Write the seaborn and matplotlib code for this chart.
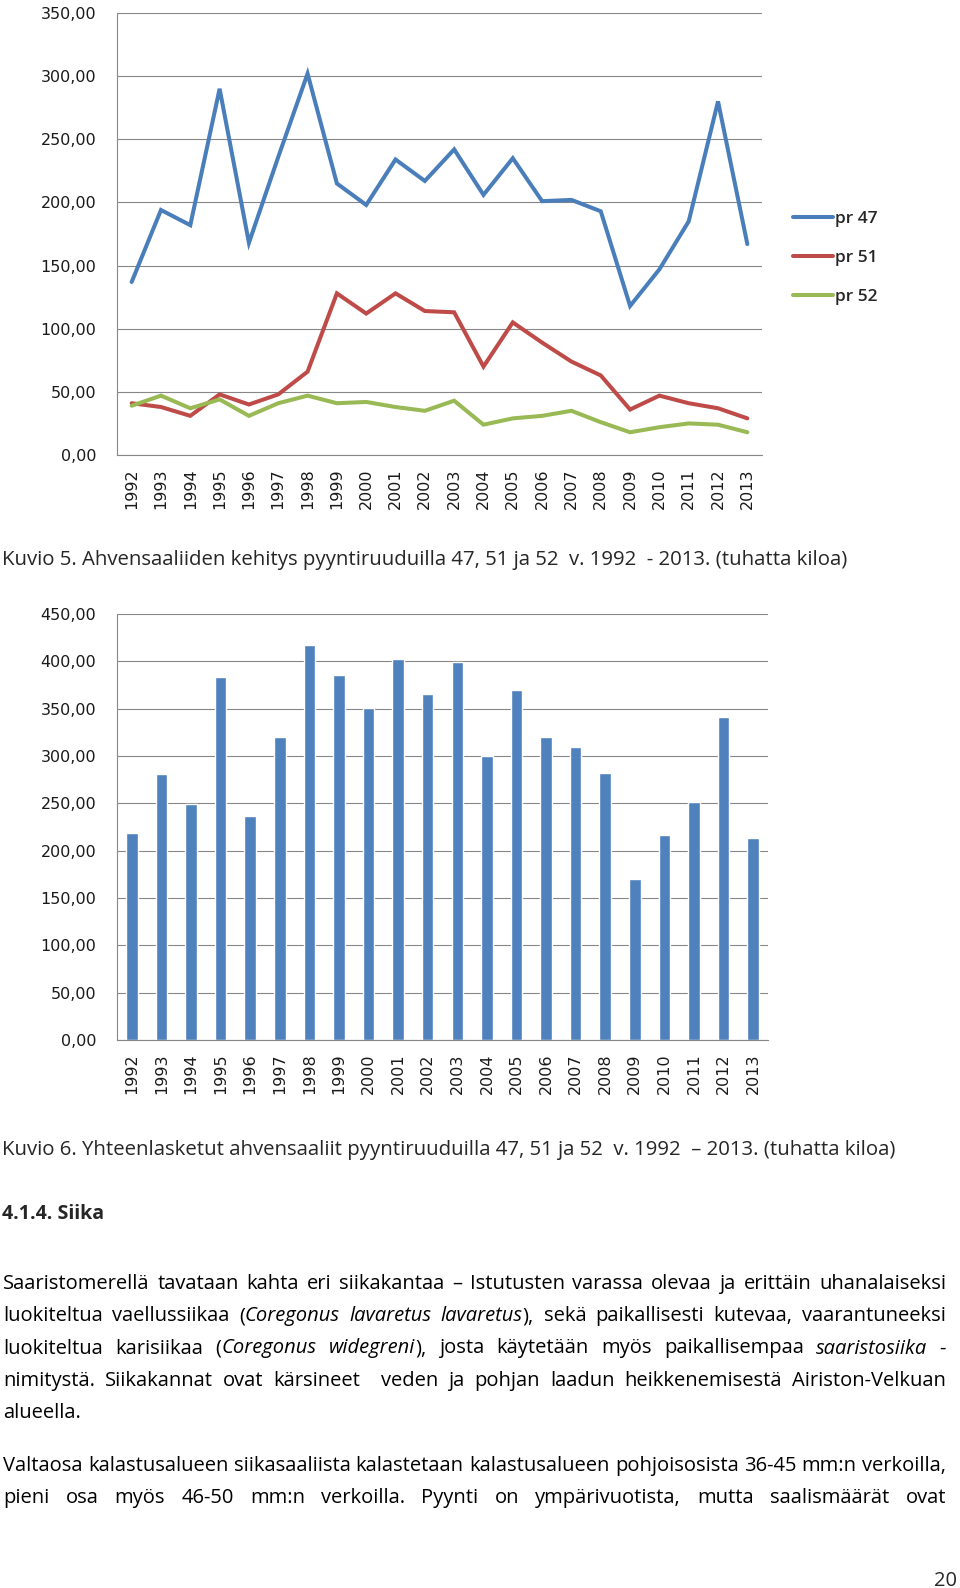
import matplotlib

matplotlib.use("Agg")
import matplotlib.pyplot as plt
import numpy as np
import pandas as pd
import seaborn as sns
from matplotlib.ticker import FuncFormatter

years = ["1992", "1993", "1994", "1995", "1996", "1997", "1998", "1999", "2000", "2001", "2002",
         "2003", "2004", "2005", "2006", "2007", "2008", "2009", "2010", "2011", "2012", "2013"]
pr47 = [137, 194, 182, 290, 168, 236, 302, 215, 198, 234, 217, 242, 206, 235, 201, 202, 193, 118, 147, 185, 280, 167]
pr51 = [41, 38, 31, 48, 40, 48, 66, 128, 112, 128, 114, 113, 70, 105, 89, 74, 63, 36, 47, 41, 37, 29]
pr52 = [39, 47, 37, 44, 31, 41, 47, 41, 42, 38, 35, 43, 24, 29, 31, 35, 26, 18, 22, 25, 24, 18]
totals = [219, 281, 249, 383, 237, 320, 417, 386, 351, 402, 366, 399,
          300, 370, 320, 309, 282, 170, 217, 251, 341, 213]
series_names = ["pr 47", "pr 51", "pr 52"]
line_colors = ["#4A7EBB", "#BE4B48", "#98B954"]
bar_color = "#4F81BD"

caption5 = "Kuvio 5. Ahvensaaliiden kehitys pyyntiruuduilla 47, 51 ja 52  v. 1992  - 2013. (tuhatta kiloa)"
caption6 = "Kuvio 6. Yhteenlasketut ahvensaaliit pyyntiruuduilla 47, 51 ja 52  v. 1992  \u2013 2013. (tuhatta kiloa)"
heading = "4.1.4. Siika"
para1 = [
    "Saaristomerellä tavataan kahta eri siikakantaa \u2013 Istutusten varassa olevaa ja erittäin uhanalaiseksi",
    "luokiteltua vaellussiikaa (*Coregonus lavaretus lavaretus*), sekä paikallisesti kutevaa, vaarantuneeksi",
    "luokiteltua karisiikaa (*Coregonus widegreni*), josta käytetään myös paikallisempaa *saaristosiika* -",
    "nimitystä. Siikakannat ovat kärsineet  veden ja pohjan laadun heikkenemisestä Airiston-Velkuan",
    "alueella.",
]
para2 = [
    "Valtaosa kalastusalueen siikasaaliista kalastetaan kalastusalueen pohjoisosista 36-45 mm:n verkoilla,",
    "pieni osa myös 46-50 mm:n verkoilla. Pyynti on ympärivuotista, mutta saalismäärät ovat",
]
page_no = "20"

W, H = 960, 1588
BODY_FONT = "Open Sans"
grid_color = "#878787"
label_color = "#1a1a1a"

sns.set_style("white")
plt.rcParams["font.family"] = ["DejaVu Sans"]

fig = plt.figure(figsize=(W / 100, H / 100), dpi=100)
fig.patch.set_facecolor("white")
renderer = fig.canvas.get_renderer()


def px_rect(left, top, right, bottom):
    return [left / W, 1 - bottom / H, (right - left) / W, (bottom - top) / H]


def style_axes(ax, ymax):
    ax.set_xlim(-0.5, len(years) - 0.5)
    ax.set_ylim(0, ymax)
    ax.set_yticks(np.arange(0, ymax + 1, 50))
    ax.yaxis.set_major_formatter(FuncFormatter(lambda v, p: f"{v:.2f}".replace(".", ",")))
    ax.set_xticks(range(len(years)), labels=years, rotation=90)
    ax.set_xticks(np.arange(-0.5, len(years), 1), minor=True)
    ax.tick_params(axis="x", which="major", length=0, pad=9.5, labelsize=11.5, labelcolor=label_color)
    ax.tick_params(axis="x", which="minor", length=5, width=0.8, color=grid_color)
    ax.tick_params(axis="y", length=5, width=0.8, color=grid_color, pad=10, labelsize=11.5,
                   labelcolor=label_color)
    ax.grid(False)
    ax.yaxis.grid(True, color=grid_color, lw=0.8)
    ax.set_axisbelow(True)
    for side in ("top", "right"):
        ax.spines[side].set_visible(False)
    for side in ("left", "bottom"):
        ax.spines[side].set_color(grid_color)
        ax.spines[side].set_linewidth(0.8)
    ax.set_xlabel("")
    ax.set_ylabel("")


# chart 1: lines per fishing square
ax1 = fig.add_axes(px_rect(117, 13, 762, 455))
long_df = pd.DataFrame({
    "year": years * 3,
    "value": pr47 + pr51 + pr52,
    "series": [series_names[0]] * len(years) + [series_names[1]] * len(years) + [series_names[2]] * len(years),
})
sns.lineplot(data=long_df, x="year", y="value", hue="series", hue_order=series_names,
             palette=line_colors, linewidth=2.9, ax=ax1)
style_axes(ax1, 350)
for ln in ax1.lines:
    ln.set_solid_capstyle("round")
    ln.set_solid_joinstyle("miter")
sns.move_legend(ax1, "center left", bbox_to_anchor=(1.048, 0.4457), frameon=False, title=None,
                handlelength=2.3, handletextpad=0.15, labelspacing=1.3, borderpad=0, borderaxespad=0,
                prop={"family": BODY_FONT, "size": 12.5, "weight": "semibold"})
for h in ax1.get_legend().get_lines():
    h.set_linewidth(2.9)

# chart 2: total bars
ax2 = fig.add_axes(px_rect(117, 614, 768, 1040))
sns.barplot(x=years, y=totals, color=bar_color, saturation=1, width=0.39, errorbar=None, ax=ax2)
style_axes(ax2, 450)


def text_width(s, fs, weight="normal", style="normal"):
    t = fig.text(0, 0, s, fontsize=fs, family=BODY_FONT, weight=weight, style=style)
    w = t.get_window_extent(renderer).width
    t.remove()
    return w


def parse_line(s):
    words, cur, run, italic = [], [], "", False
    for ch in s:
        if ch == "*":
            if run:
                cur.append((run, italic))
                run = ""
            italic = not italic
        elif ch == " ":
            if run:
                cur.append((run, italic))
                run = ""
            words.append(cur)
            cur = []
        else:
            run += ch
    if run:
        cur.append((run, italic))
    words.append(cur)
    return words


def draw_line(s, y, fs, justify=True, x0=3, x1=946):
    words = parse_line(s)
    placed, widths = [], []
    for w in words:
        runs, ww = [], 0
        for txt, it in w:
            t = fig.text(0, 1 - y / H, txt, fontsize=fs, family=BODY_FONT,
                         style="italic" if it else "normal", va="baseline", color="black")
            e = t.get_window_extent(renderer).width
            runs.append((t, e))
            ww += e
        placed.append(runs)
        widths.append(ww)
    space = text_width("n n", fs) - text_width("nn", fs)
    gap = (x1 - x0 - sum(widths)) / (len(words) - 1) if justify and len(words) > 1 else space
    x = x0
    for runs, ww in zip(placed, widths):
        xx = x
        for t, e in runs:
            t.set_x(xx / W)
            xx += e
        x += ww + gap


body_fs = 10 * 943 / text_width(para2[0], 10)
cap_fs = 10 * 898 / text_width(caption6, 10)
head_fs = 10 * 102 / text_width(heading, 10, weight="bold")

fig.text(2 / W, 1 - 565 / H, caption5, fontsize=cap_fs, family=BODY_FONT, va="baseline")
fig.text(2 / W, 1 - 1155 / H, caption6, fontsize=cap_fs, family=BODY_FONT, va="baseline")
fig.text(2 / W, 1 - 1219 / H, heading, fontsize=head_fs, family=BODY_FONT, weight="bold", va="baseline")

for i, line in enumerate(para1):
    draw_line(line, 1289 + i * 32.25, body_fs, justify=(i < len(para1) - 1))
for i, line in enumerate(para2):
    draw_line(line, 1471 + i * 32.25, body_fs, justify=True)

fig.text(957 / W, 1 - 1586 / H, page_no, fontsize=body_fs, family=BODY_FONT, ha="right", va="baseline")

fig.savefig("out.png", dpi=100, facecolor="white")
